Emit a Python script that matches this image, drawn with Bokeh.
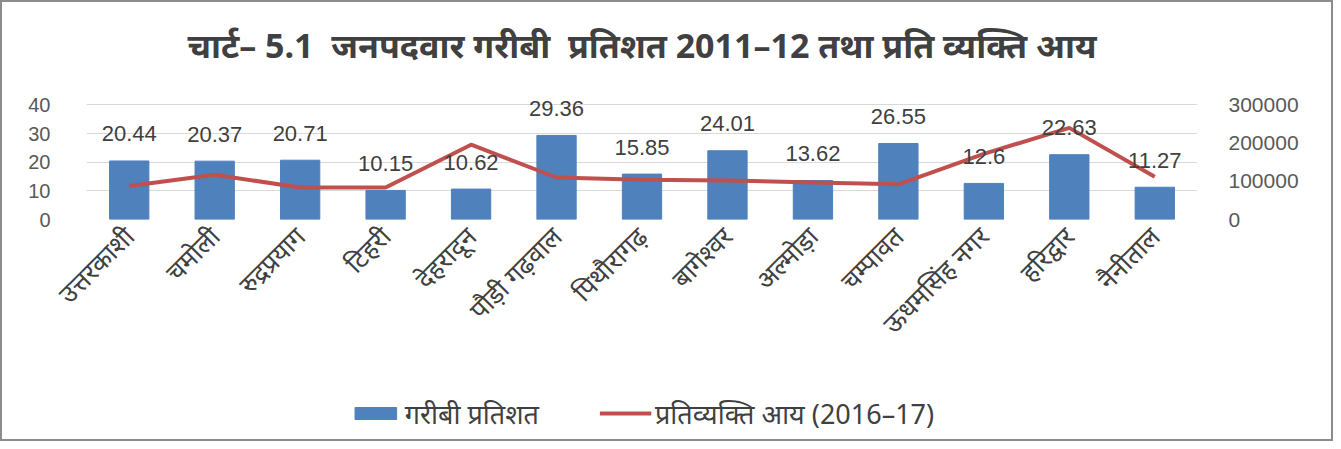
import math
from bokeh.plotting import figure
from bokeh.layouts import column
from bokeh.models import (ColumnDataSource, Range1d, LinearAxis, Legend, LegendItem,
                          FixedTicker, NumeralTickFormatter, Label)
from bokeh.core.properties import value
from bokeh.embed import file_html
from bokeh.resources import INLINE

districts = ["उत्तरकाशी", "चमोली", "रुद्रप्रयाग", "टिहरी", "देहरादून", "पौड़ी गढ़वाल",
             "पिथौरागढ़", "बागेश्वर", "अल्मोड़ा", "चम्पावत", "ऊधमसिंह नगर", "हरिद्वार", "नैनीताल"]
poverty_pct = [20.44, 20.37, 20.71, 10.15, 10.62, 29.36, 15.85, 24.01, 13.62, 26.55, 12.6, 22.63, 11.27]
poverty_labels = ["20.44", "20.37", "20.71", "10.15", "10.62", "29.36", "15.85", "24.01",
                  "13.62", "26.55", "12.6", "22.63", "11.27"]
per_capita_income = [88000, 117000, 84000, 84000, 196000, 110000, 104000, 102000, 97000,
                     92000, 172000, 240000, 112000]
left_ticks = [0, 10, 20, 30, 40]
right_ticks = [0, 100000, 200000, 300000]

title_text = "चार्ट–\u00a05.1\u00a0\u00a0जनपदवार गरीबी\u00a0\u00a0प्रतिशत 2011–12 तथा प्रति व्यक्ति आय"
bar_name = "गरीबी प्रतिशत"
line_name = "प्रतिव्यक्ति आय (2016–17)"

FONT = "Noto Sans"
NUMFONT = "Liberation Sans"
BLUE = "#4F81BD"
RED = "#C0504D"
GRID = "#D9D9D9"
TXT = "#404040"
W = 1329
# a little head-room above the 40 line so the top data label is not clipped
LEFT_MAX = 44
RIGHT_MAX = 330000

# ---- title strip ----
tf = figure(width=W, height=78, x_range=Range1d(0, 1), y_range=Range1d(0, 1),
            output_backend="svg", toolbar_location=None, x_axis_type=None, y_axis_type=None,
            min_border=0)
tf.outline_line_color = None
tf.grid.visible = False
tf.add_layout(Label(x=0.5, y=0.45, text=title_text, text_align="center", text_baseline="middle",
                    text_font=FONT, text_font_size="34px", text_font_style="bold",
                    text_color=TXT))

# ---- main chart ----
src = ColumnDataSource(dict(x=districts, pct=poverty_pct, lab=poverty_labels, inc=per_capita_income))

p = figure(x_range=districts, y_range=Range1d(0, LEFT_MAX), width=W, height=307,
           output_backend="svg", toolbar_location=None,
           min_border_left=84, min_border_right=134, min_border_top=13, min_border_bottom=168)
p.extra_y_ranges = {"inc": Range1d(0, RIGHT_MAX)}

p.vbar(x="x", top="pct", width=0.46, source=src, color=BLUE)
p.line(x="x", y="inc", source=src, y_range_name="inc", line_color=RED, line_width=4)
p.text(x="x", y="pct", text="lab", source=src, text_align="center", text_baseline="middle",
       y_offset=-27, text_font=value(NUMFONT), text_font_size="22px", text_color=TXT)

p.xgrid.visible = False
p.ygrid.grid_line_color = GRID
p.ygrid.ticker = FixedTicker(ticks=left_ticks)
p.outline_line_color = None

ax = p.xaxis[0]
ax.major_label_orientation = math.pi / 4
ax.major_label_text_font = FONT
ax.major_label_text_font_size = "26px"
ax.major_label_text_color = "#404040"
ax.axis_line_color = None
ax.major_tick_line_color = None
ax.major_label_standoff = 6

ay = p.yaxis[0]
ay.ticker = FixedTicker(ticks=left_ticks)
ay.axis_line_color = None
ay.major_tick_line_color = None
ay.minor_tick_line_color = None
ay.major_label_text_font = NUMFONT
ay.major_label_text_font_size = "20px"
ay.major_label_text_color = "#595959"
ay.major_label_standoff = 30

ry = LinearAxis(y_range_name="inc", ticker=FixedTicker(ticks=right_ticks),
                formatter=NumeralTickFormatter(format="0"))
ry.axis_line_color = None
ry.major_tick_line_color = None
ry.minor_tick_line_color = None
ry.major_label_text_font = NUMFONT
ry.major_label_text_font_size = "21px"
ry.major_label_text_color = "#595959"
ry.major_label_standoff = 25
p.add_layout(ry, "right")

# ---- legend strip (proxy renderers hold no visible data) ----
lf = figure(width=W, height=52, x_range=Range1d(0, 1), y_range=Range1d(0, 1),
            output_backend="svg", toolbar_location=None, x_axis_type=None, y_axis_type=None,
            min_border=0)
lf.outline_line_color = None
lf.grid.visible = False
nan = float("nan")
lb = lf.vbar(x=[nan], top=[nan], width=0.5, color=BLUE)
ll = lf.line(x=[nan], y=[nan], line_color=RED, line_width=4)
legend = Legend(items=[LegendItem(label=bar_name, renderers=[lb]),
                       LegendItem(label=line_name, renderers=[ll])],
                orientation="horizontal", location="center",
                label_text_font=FONT, label_text_font_size="27px", label_text_color=TXT,
                glyph_width=52, glyph_height=15, spacing=60, label_standoff=4,
                margin=0, padding=2,
                background_fill_alpha=0, border_line_color=None)
lf.add_layout(legend, "center")

layout = column(tf, p, lf, spacing=0, styles={"border": "2px solid #8c8c8c"})

open("out.html", "w").write(file_html(layout, INLINE))
